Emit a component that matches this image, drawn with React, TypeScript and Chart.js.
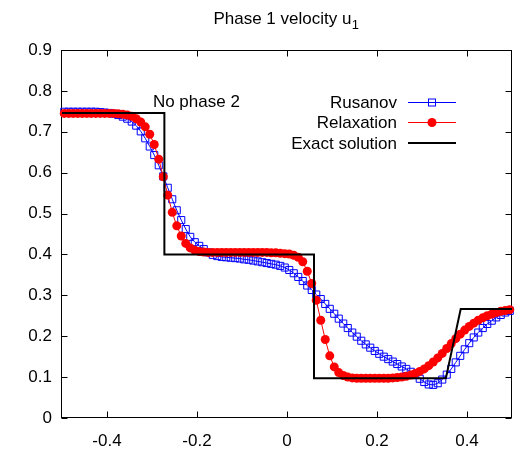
import React, { useEffect, useRef } from "react";
import { Chart, registerables } from "chart.js";

Chart.register(...registerables);

const TITLE_MAIN = "Phase 1 velocity u";
const TITLE_SUB = "1";
const ANNOTATION = "No phase 2";
const ANNOTATION_AT = { x: -0.298, y: 0.773 };
const SERIES_NAMES = ["Rusanov", "Relaxation", "Exact solution"];

const cellX = [
  -0.495, -0.485, -0.475, -0.465, -0.455, -0.445, -0.435, -0.425, -0.415, -0.405,
  -0.395, -0.385, -0.375, -0.365, -0.355, -0.345, -0.335, -0.325, -0.315, -0.305,
  -0.295, -0.285, -0.275, -0.265, -0.255, -0.245, -0.235, -0.225, -0.215, -0.205,
  -0.195, -0.185, -0.175, -0.165, -0.155, -0.145, -0.135, -0.125, -0.115, -0.105,
  -0.095, -0.085, -0.075, -0.065, -0.055, -0.045, -0.035, -0.025, -0.015, -0.005,
  0.005, 0.015, 0.025, 0.035, 0.045, 0.055, 0.065, 0.075, 0.085, 0.095,
  0.105, 0.115, 0.125, 0.135, 0.145, 0.155, 0.165, 0.175, 0.185, 0.195,
  0.205, 0.215, 0.225, 0.235, 0.245, 0.255, 0.265, 0.275, 0.285, 0.295,
  0.305, 0.315, 0.325, 0.335, 0.345, 0.355, 0.365, 0.375, 0.385, 0.395,
  0.405, 0.415, 0.425, 0.435, 0.445, 0.455, 0.465, 0.475, 0.485, 0.495,
];

const rusanov = [
  0.749, 0.749, 0.749, 0.749, 0.749, 0.749, 0.749, 0.749, 0.748, 0.747,
  0.746, 0.744, 0.741, 0.737, 0.732, 0.725, 0.715, 0.701, 0.684, 0.664,
  0.643, 0.618, 0.591, 0.563, 0.535, 0.508, 0.484, 0.462, 0.443, 0.430,
  0.421, 0.413, 0.405, 0.399, 0.396, 0.394, 0.393, 0.392, 0.391, 0.390,
  0.388, 0.387, 0.385, 0.383, 0.381, 0.379, 0.377, 0.375, 0.372, 0.368,
  0.362, 0.354, 0.345, 0.335, 0.324, 0.313, 0.302, 0.291, 0.279, 0.267,
  0.255, 0.243, 0.231, 0.220, 0.209, 0.199, 0.189, 0.180, 0.172, 0.164,
  0.157, 0.150, 0.144, 0.138, 0.132, 0.126, 0.120, 0.113, 0.105, 0.096,
  0.088, 0.082, 0.081, 0.085, 0.094, 0.106, 0.120, 0.136, 0.152, 0.168,
  0.183, 0.197, 0.209, 0.220, 0.230, 0.238, 0.246, 0.252, 0.258, 0.262,
];

const relaxation = [
  0.745, 0.745, 0.745, 0.745, 0.745, 0.745, 0.745, 0.745, 0.745, 0.745,
  0.745, 0.745, 0.744, 0.743, 0.741, 0.738, 0.732, 0.724, 0.712, 0.694,
  0.669, 0.633, 0.590, 0.545, 0.503, 0.470, 0.445, 0.427, 0.416, 0.410,
  0.407, 0.406, 0.405, 0.405, 0.405, 0.405, 0.405, 0.405, 0.405, 0.405,
  0.405, 0.405, 0.405, 0.405, 0.405, 0.405, 0.404, 0.404, 0.403, 0.402,
  0.401, 0.398, 0.393, 0.382, 0.359, 0.329, 0.288, 0.239, 0.192, 0.152,
  0.125, 0.111, 0.104, 0.100, 0.098, 0.097, 0.097, 0.097, 0.097, 0.097,
  0.097, 0.097, 0.097, 0.098, 0.099, 0.100, 0.102, 0.105, 0.109, 0.114,
  0.120, 0.128, 0.137, 0.147, 0.158, 0.170, 0.182, 0.194, 0.205, 0.215,
  0.224, 0.232, 0.239, 0.245, 0.250, 0.254, 0.258, 0.261, 0.263, 0.265,
];

const exactX = [-0.5, -0.2725, -0.2725, 0.06, 0.06, 0.353, 0.386, 0.5];
const exactY = [0.746, 0.746, 0.4, 0.4, 0.097, 0.097, 0.2665, 0.2665];

const xTicks = [-0.4, -0.2, 0, 0.2, 0.4];
const yTicks = [0, 0.1, 0.2, 0.3, 0.4, 0.5, 0.6, 0.7, 0.8, 0.9];

const FONT = '"Liberation Sans", Arial, Helvetica, sans-serif';
const BLUE = "#0000ff";
const RED = "#ff0000";

const fmt = (v: number) => String(Number(v.toFixed(2)));

const framePlugin = {
  id: "frameTicks",
  beforeDatasetsDraw(chart: any) {
    const ctx = chart.ctx;
    const { left, right, top, bottom } = chart.chartArea;
    const xs = chart.scales.x;
    const ys = chart.scales.y;
    const L = Math.round(left) - 0.5;
    const R = Math.round(right) - 0.5;
    const T = Math.round(top) + 0.5;
    const B = Math.round(bottom) - 0.5;
    ctx.save();
    ctx.strokeStyle = "#000";
    ctx.lineWidth = 1;
    ctx.beginPath();
    xTicks.forEach((v) => {
      const px = Math.round(xs.getPixelForValue(v)) + 0.5;
      ctx.moveTo(px, B);
      ctx.lineTo(px, B - 6);
      ctx.moveTo(px, T);
      ctx.lineTo(px, T + 6);
    });
    yTicks.forEach((v) => {
      const py = Math.round(ys.getPixelForValue(v)) + 0.5;
      ctx.moveTo(L, py);
      ctx.lineTo(L + 6, py);
      ctx.moveTo(R, py);
      ctx.lineTo(R - 6, py);
    });
    ctx.stroke();
    ctx.strokeRect(L, T, R - L, B - T);
    ctx.restore();
  },
};

const textPlugin = {
  id: "texts",
  afterDraw(chart: any) {
    const ctx = chart.ctx;
    const { left, right } = chart.chartArea;
    const xs = chart.scales.x;
    const ys = chart.scales.y;
    ctx.save();
    ctx.fillStyle = "#000";
    // title
    ctx.font = `17px ${FONT}`;
    const w1 = ctx.measureText(TITLE_MAIN).width;
    ctx.font = `13px ${FONT}`;
    const w2 = ctx.measureText(TITLE_SUB).width;
    const cx = (left + right) / 2 - 1;
    const sx = cx - (w1 + w2) / 2;
    ctx.textAlign = "left";
    ctx.textBaseline = "alphabetic";
    ctx.font = `17px ${FONT}`;
    ctx.fillText(TITLE_MAIN, sx, 24);
    ctx.font = `13px ${FONT}`;
    ctx.fillText(TITLE_SUB, sx + w1 + 0.5, 29);
    // annotation
    ctx.font = `17px ${FONT}`;
    ctx.textBaseline = "middle";
    ctx.fillText(ANNOTATION, xs.getPixelForValue(ANNOTATION_AT.x), ys.getPixelForValue(ANNOTATION_AT.y));
    // legend
    const rows = [102, 122, 143];
    const textRight = 397;
    const lx0 = 408;
    const lx1 = 456;
    const mx = 432;
    ctx.textAlign = "right";
    SERIES_NAMES.forEach((name, i) => {
      ctx.fillStyle = "#000";
      ctx.fillText(name, textRight, rows[i] + 1);
    });
    // Rusanov sample
    ctx.strokeStyle = BLUE;
    ctx.lineWidth = 1;
    ctx.beginPath();
    ctx.moveTo(lx0, rows[0] + 0.5);
    ctx.lineTo(lx1, rows[0] + 0.5);
    ctx.stroke();
    ctx.strokeRect(mx - 3.5, rows[0] - 3, 7, 7);
    // Relaxation sample
    ctx.strokeStyle = RED;
    ctx.beginPath();
    ctx.moveTo(lx0, rows[1] + 0.5);
    ctx.lineTo(lx1, rows[1] + 0.5);
    ctx.stroke();
    ctx.fillStyle = RED;
    ctx.beginPath();
    ctx.arc(mx, rows[1] + 0.5, 4.5, 0, Math.PI * 2);
    ctx.fill();
    // Exact sample
    ctx.strokeStyle = "#000";
    ctx.lineWidth = 2;
    ctx.beginPath();
    ctx.moveTo(lx0, rows[2]);
    ctx.lineTo(lx1, rows[2]);
    ctx.stroke();
    ctx.restore();
  },
};

export default function App() {
  const canvasRef = useRef<HTMLCanvasElement | null>(null);

  useEffect(() => {
    document.body.style.margin = "0";
    const canvas = canvasRef.current;
    if (!canvas) return;
    const chart = new Chart(canvas, {
      type: "line",
      data: {
        datasets: [
          {
            label: SERIES_NAMES[2],
            data: exactX.map((x, i) => ({ x, y: exactY[i] })),
            borderColor: "#000",
            borderWidth: 2,
            pointRadius: 0,
            tension: 0,
            fill: false,
            order: 1,
            clip: false,
          },
          {
            label: SERIES_NAMES[1],
            data: cellX.map((x, i) => ({ x, y: relaxation[i] })),
            borderColor: RED,
            borderWidth: 1,
            pointStyle: "circle",
            pointRadius: 4.5,
            pointBorderWidth: 0,
            pointBackgroundColor: RED,
            pointBorderColor: RED,
            tension: 0,
            fill: false,
            order: 2,
            clip: false,
          },
          {
            label: SERIES_NAMES[0],
            data: cellX.map((x, i) => ({ x, y: rusanov[i] })),
            borderColor: BLUE,
            borderWidth: 1,
            pointStyle: "rect",
            pointRadius: 5,
            pointBorderWidth: 1,
            pointBackgroundColor: "rgba(0,0,0,0)",
            pointBorderColor: BLUE,
            tension: 0,
            fill: false,
            order: 3,
            clip: false,
          },
        ],
      },
      options: {
        animation: false,
        responsive: true,
        maintainAspectRatio: false,
        devicePixelRatio: 1,
        layout: { padding: { left: 0, right: 9, top: 50, bottom: 0 } },
        plugins: {
          legend: { display: false },
          title: { display: false },
          tooltip: { enabled: false },
        },
        scales: {
          x: {
            type: "linear",
            min: -0.5,
            max: 0.5,
            grid: { display: false, drawTicks: false },
            border: { display: false },
            afterBuildTicks: (s: any) => {
              s.ticks = xTicks.map((v) => ({ value: v }));
            },
            afterFit: (s: any) => {
              s.height = 31;
            },
            ticks: {
              color: "#000",
              font: { family: FONT, size: 17 },
              padding: 13,
              autoSkip: false,
              maxRotation: 0,
              callback: (v: any) => fmt(Number(v)),
            },
          },
          y: {
            type: "linear",
            min: 0,
            max: 0.9,
            grid: { display: false, drawTicks: false },
            border: { display: false },
            afterBuildTicks: (s: any) => {
              s.ticks = yTicks.map((v) => ({ value: v }));
            },
            afterFit: (s: any) => {
              s.width = 62;
            },
            ticks: {
              color: "#000",
              font: { family: FONT, size: 17 },
              padding: 10,
              autoSkip: false,
              callback: (v: any) => fmt(Number(v)),
            },
          },
        },
      },
      plugins: [framePlugin, textPlugin],
    } as any);
    return () => chart.destroy();
  }, []);

  return (
    <div style={{ position: "relative", width: 521, height: 449 }}>
      <canvas ref={canvasRef} />
    </div>
  );
}
